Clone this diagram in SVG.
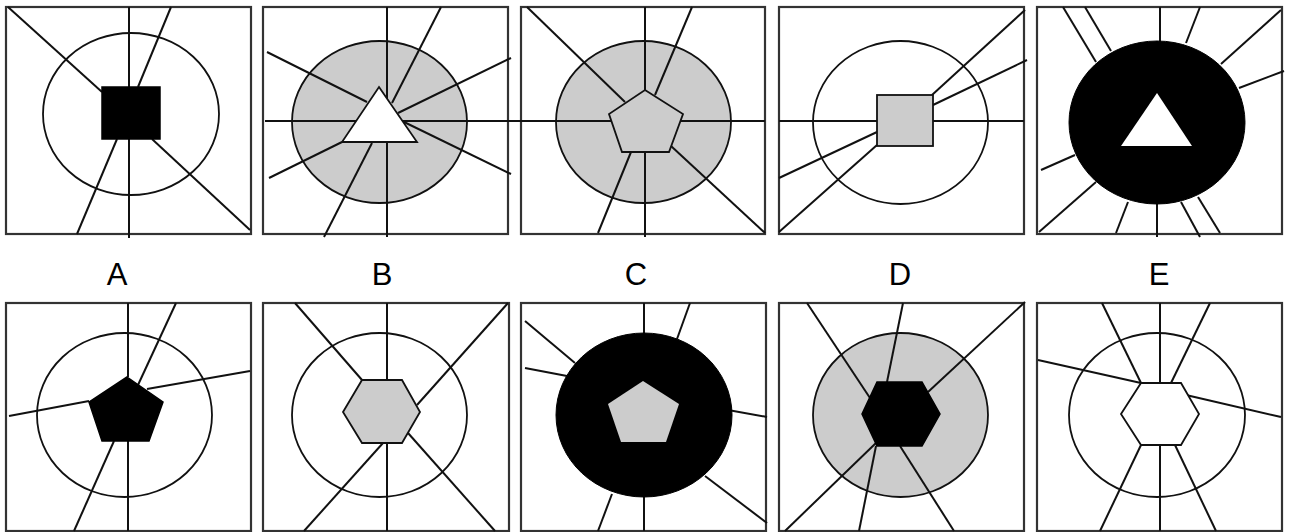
<svg xmlns="http://www.w3.org/2000/svg" width="1289" height="532" viewBox="0 0 1289 532">
<style>
.frame{fill:#fff;stroke:#333;stroke-width:2.2}
.ln{stroke:#111;stroke-width:2;fill:none;stroke-linecap:butt}
.cw{fill:#fff;stroke:#111;stroke-width:1.8}
.cg{fill:#ccc;stroke:#111;stroke-width:1.8}
.cb{fill:#000;stroke:#000;stroke-width:1}
.sb{fill:#000;stroke:#000;stroke-width:1.5}
.sg{fill:#ccc;stroke:#111;stroke-width:1.8}
.sw{fill:#fff;stroke:#111;stroke-width:1.8}
.swn{fill:#fff;stroke:none}
.lbl{font-family:"Liberation Sans",Arial,sans-serif;font-size:31px;fill:#000;text-anchor:middle}
</style>
<rect width="1289" height="532" fill="#fff"/>

<g id="top-A">
<rect class="frame" x="6" y="7" width="245" height="227"/>
<ellipse class="cw" cx="131" cy="114" rx="88" ry="81"/>
<g class="ln">
<line x1="129" y1="7" x2="129" y2="87"/>
<line x1="129" y1="139" x2="129" y2="238"/>
<line x1="8" y1="7" x2="102" y2="92"/>
<line x1="171" y1="7" x2="138" y2="87"/>
<line x1="117" y1="139" x2="77" y2="234"/>
<line x1="152" y1="139" x2="250" y2="230"/>
</g>
<rect class="sb" x="102" y="87" width="58" height="52"/>
</g>

<g id="top-B">
<rect class="frame" x="263" y="7" width="245" height="227"/>
<ellipse class="cg" cx="379.5" cy="122" rx="87.5" ry="81"/>
<g class="ln">
<line x1="387" y1="7" x2="387" y2="112"/>
<line x1="387" y1="142" x2="387" y2="237"/>
<line x1="265" y1="121" x2="522" y2="121"/>
<line x1="267" y1="52" x2="367" y2="102"/>
<line x1="441" y1="7" x2="392" y2="103"/>
<line x1="511" y1="58" x2="398" y2="113"/>
<line x1="511" y1="174" x2="402" y2="121"/>
<line x1="269" y1="178" x2="342" y2="142"/>
<line x1="324" y1="237" x2="372" y2="143"/>
</g>
<polygon class="sw" points="379,87 417,142 342,142"/>
</g>

<g id="top-C">
<rect class="frame" x="521" y="7" width="244" height="227"/>
<ellipse class="cg" cx="643.5" cy="122" rx="87.5" ry="81"/>
<g class="ln">
<line x1="512" y1="121" x2="765" y2="121"/>
<line x1="645" y1="7" x2="645" y2="90"/>
<line x1="645" y1="152" x2="645" y2="237"/>
<line x1="527" y1="7" x2="625" y2="102"/>
<line x1="692" y1="7" x2="655" y2="95"/>
<line x1="631" y1="152" x2="598" y2="233"/>
<line x1="671" y1="146" x2="765" y2="233"/>
</g>
<polygon class="sg" points="645,90 683,114 669,152 622,152 609,114"/>
</g>

<g id="top-D">
<rect class="frame" x="779" y="7" width="245" height="227"/>
<ellipse class="cw" cx="900.5" cy="122.5" rx="87.5" ry="81.5"/>
<g class="ln">
<line x1="779" y1="121" x2="1024" y2="121"/>
<line x1="1025" y1="10" x2="932" y2="95"/>
<line x1="1027" y1="60" x2="933" y2="105"/>
<line x1="779" y1="178" x2="877" y2="132"/>
<line x1="779" y1="232" x2="877" y2="145"/>
</g>
<rect class="sg" x="877" y="95" width="56" height="51"/>
</g>

<g id="top-E">
<rect class="frame" x="1037" y="7" width="245" height="227"/>
<g class="ln">
<line x1="1160" y1="7" x2="1160" y2="45"/>
<line x1="1063" y1="7" x2="1096" y2="62"/>
<line x1="1085" y1="7" x2="1111" y2="51"/>
<line x1="1200" y1="7" x2="1186" y2="43"/>
<line x1="1281" y1="10" x2="1221" y2="64"/>
<line x1="1284" y1="71" x2="1239" y2="88"/>
<line x1="1041" y1="170" x2="1075" y2="155"/>
<line x1="1039" y1="232" x2="1096" y2="182"/>
<line x1="1128" y1="202" x2="1116" y2="233"/>
<line x1="1157" y1="200" x2="1157" y2="237"/>
<line x1="1181" y1="202" x2="1200" y2="237"/>
<line x1="1198" y1="197" x2="1220" y2="233"/>
</g>
<ellipse class="cb" cx="1157" cy="122.5" rx="88" ry="81.5"/>
<polygon class="swn" points="1157,93 1192,146 1121,146"/>
</g>

<g id="labels">
<text class="lbl" x="117" y="285">A</text>
<text class="lbl" x="382" y="285">B</text>
<text class="lbl" x="636" y="285">C</text>
<text class="lbl" x="900" y="285">D</text>
<text class="lbl" x="1159" y="285">E</text>
</g>

<g id="bottom-A">
<rect class="frame" x="6" y="303" width="245" height="228"/>
<ellipse class="cw" cx="124.5" cy="415" rx="87.5" ry="82"/>
<g class="ln">
<line x1="128" y1="303" x2="128" y2="377"/>
<line x1="128" y1="441" x2="128" y2="531"/>
<line x1="176" y1="303" x2="138" y2="385"/>
<line x1="250" y1="371" x2="147" y2="389"/>
<line x1="9" y1="416" x2="89" y2="401"/>
<line x1="74" y1="531" x2="114" y2="441"/>
</g>
<polygon class="sb" points="127,377 163,402 149,441 102,441 89,402"/>
</g>

<g id="bottom-B">
<rect class="frame" x="263" y="303" width="246" height="228"/>
<ellipse class="cw" cx="379.5" cy="415" rx="87.5" ry="82"/>
<g class="ln">
<line x1="387" y1="303" x2="387" y2="380"/>
<line x1="387" y1="443" x2="387" y2="531"/>
<line x1="295" y1="303" x2="362" y2="380"/>
<line x1="508" y1="303" x2="417" y2="405"/>
<line x1="304" y1="531" x2="383" y2="443"/>
<line x1="495" y1="531" x2="408" y2="433"/>
</g>
<polygon class="sg" points="362,380 402,380 420,412 402,443 362,443 343,412"/>
</g>

<g id="bottom-C">
<rect class="frame" x="521" y="303" width="245" height="228"/>
<g class="ln">
<line x1="644" y1="303" x2="644" y2="336"/>
<line x1="690" y1="303" x2="677" y2="339"/>
<line x1="525" y1="321" x2="575" y2="363"/>
<line x1="525" y1="368" x2="567" y2="376"/>
<line x1="728" y1="410" x2="767" y2="417"/>
<line x1="705" y1="476" x2="767" y2="523"/>
<line x1="612" y1="494" x2="598" y2="531"/>
<line x1="644" y1="494" x2="644" y2="531"/>
</g>
<ellipse class="cb" cx="644" cy="415" rx="88" ry="82"/>
<polygon fill="#ccc" points="643,381 679,404 666,442 621,442 608,404"/>
</g>

<g id="bottom-D">
<rect class="frame" x="779" y="303" width="245" height="228"/>
<ellipse class="cg" cx="900.5" cy="415" rx="87.5" ry="82"/>
<g class="ln">
<line x1="807" y1="303" x2="870" y2="398"/>
<line x1="903" y1="303" x2="887" y2="382"/>
<line x1="1025" y1="302" x2="928" y2="392"/>
<line x1="785" y1="531" x2="877" y2="442"/>
<line x1="859" y1="531" x2="876" y2="446"/>
<line x1="954" y1="531" x2="900" y2="446"/>
</g>
<polygon class="sb" points="877,382 922,382 940,414 922,446 877,446 862,414"/>
</g>

<g id="bottom-E">
<rect class="frame" x="1037" y="303" width="245" height="228"/>
<ellipse class="cw" cx="1157" cy="415" rx="88" ry="82"/>
<g class="ln">
<line x1="1160" y1="303" x2="1160" y2="383"/>
<line x1="1160" y1="445" x2="1160" y2="531"/>
<line x1="1102" y1="303" x2="1141" y2="383"/>
<line x1="1210" y1="303" x2="1171" y2="383"/>
<line x1="1038" y1="360" x2="1141" y2="383"/>
<line x1="1281" y1="417" x2="1186" y2="395"/>
<line x1="1100" y1="531" x2="1141" y2="445"/>
<line x1="1216" y1="531" x2="1175" y2="445"/>
</g>
<polygon class="sw" points="1141,383 1181,383 1199,414 1181,445 1141,445 1121,414"/>
</g>
</svg>
